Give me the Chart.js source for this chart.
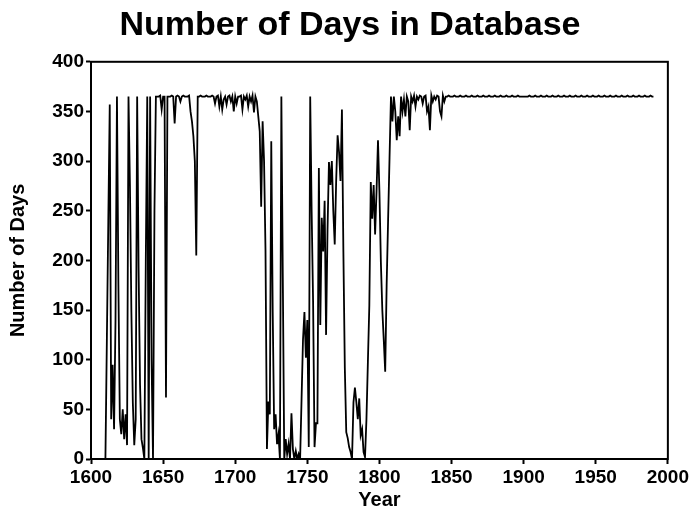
<!DOCTYPE html>
<html><head><meta charset="utf-8">
<script src="https://cdn.jsdelivr.net/npm/chart.js@4/dist/chart.umd.min.js"></script>
<style>html,body{margin:0;padding:0;background:#fff}</style>
</head><body>
<canvas id="c" width="691" height="515"></canvas>
<script>
const chartTitle = "Number of Days in Database";
const xAxisTitle = "Year";
const yAxisTitle = "Number of Days";
const xTickValues = [1600, 1650, 1700, 1750, 1800, 1850, 1900, 1950, 2000];
const yTickValues = [0, 50, 100, 150, 200, 250, 300, 350, 400];

const years = [
1610,1611,1612,1613,1614,1615,1616,1617,1618,1619,
1620,1621,1622,1623,1624,1625,1626,1627,1628,1629,
1630,1631,1632,1633,1634,1635,1636,1637,1638,1639,
1640,1641,1642,1643,1644,1645,1646,1647,1648,1649,
1650,1651,1652,1653,1654,1655,1656,1657,1658,1659,
1660,1661,1662,1663,1664,1665,1666,1667,1668,1669,
1670,1671,1672,1673,1674,1675,1676,1677,1678,1679,
1680,1681,1682,1683,1684,1685,1686,1687,1688,1689,
1690,1691,1692,1693,1694,1695,1696,1697,1698,1699,
1700,1701,1702,1703,1704,1705,1706,1707,1708,1709,
1710,1711,1712,1713,1714,1715,1716,1717,1718,1719,
1720,1721,1722,1723,1724,1725,1726,1727,1728,1729,
1730,1731,1732,1733,1734,1735,1736,1737,1738,1739,
1740,1741,1742,1743,1744,1745,1746,1747,1748,1749,
1750,1751,1752,1753,1754,1755,1756,1757,1758,1759,
1760,1761,1762,1763,1764,1765,1766,1767,1768,1769,
1770,1771,1772,1773,1774,1775,1776,1777,1778,1779,
1780,1781,1782,1783,1784,1785,1786,1787,1788,1789,
1790,1791,1792,1793,1794,1795,1796,1797,1798,1799,
1800,1801,1802,1803,1804,1805,1806,1807,1808,1809,
1810,1811,1812,1813,1814,1815,1816,1817,1818,1819,
1820,1821,1822,1823,1824,1825,1826,1827,1828,1829,
1830,1831,1832,1833,1834,1835,1836,1837,1838,1839,
1840,1841,1842,1843,1844,1845,1846,1847,1848,1849,
1850,1851,1852,1853,1854,1855,1856,1857,1858,1859,
1860,1861,1862,1863,1864,1865,1866,1867,1868,1869,
1870,1871,1872,1873,1874,1875,1876,1877,1878,1879,
1880,1881,1882,1883,1884,1885,1886,1887,1888,1889,
1890,1891,1892,1893,1894,1895,1896,1897,1898,1899,
1900,1901,1902,1903,1904,1905,1906,1907,1908,1909,
1910,1911,1912,1913,1914,1915,1916,1917,1918,1919,
1920,1921,1922,1923,1924,1925,1926,1927,1928,1929,
1930,1931,1932,1933,1934,1935,1936,1937,1938,1939,
1940,1941,1942,1943,1944,1945,1946,1947,1948,1949,
1950,1951,1952,1953,1954,1955,1956,1957,1958,1959,
1960,1961,1962,1963,1964,1965,1966,1967,1968,1969,
1970,1971,1972,1973,1974,1975,1976,1977,1978,1979,
1980,1981,1982,1983,1984,1985,1986,1987,1988,1989,
1990
];

const daysInDatabase = [
0,120,240,357,40,95,30,140,365,175,
40,25,50,20,45,14,365,276,148,57,
14,40,365,192,75,20,11,0,200,365,
0,365,100,0,250,365,365,365,366,352,
365,365,62,365,365,365,366,365,338,365,
366,365,360,365,366,365,365,365,366,350,
340,325,300,205,365,365,366,365,365,365,
366,365,365,365,366,365,358,365,366,355,
365,352,362,365,357,365,366,360,365,350,
365,358,365,365,366,352,365,362,366,355,
365,360,366,349,365,360,345,330,254,340,
300,210,10,58,45,320,148,30,45,15,
25,0,365,182,0,20,5,15,0,46,
10,0,8,0,5,0,60,120,148,102,
140,12,365,249,158,12,36,36,293,135,
243,209,260,125,230,299,276,300,250,216,
280,326,309,280,352,209,92,27,21,12,
7,0,57,72,57,40,61,24,30,7,
2,40,98,155,279,242,276,226,270,321,
269,198,150,120,88,175,240,303,365,340,
365,350,321,345,325,365,350,362,345,365,
360,331,365,360,366,355,365,362,366,365,
358,365,366,350,355,331,366,360,365,362,
366,365,350,345,366,360,365,365,366,365,
365,365,366,365,365,365,366,365,365,365,
366,365,365,365,366,365,365,365,366,365,
365,365,366,365,365,365,366,365,365,365,
366,365,365,365,366,365,365,365,366,365,
365,365,366,365,365,365,366,365,365,365,
365,365,365,365,366,365,365,365,366,365,
365,365,366,365,365,365,366,365,365,365,
366,365,365,365,366,365,365,365,366,365,
365,365,366,365,365,365,366,365,365,365,
366,365,365,365,366,365,365,365,366,365,
365,365,366,365,365,365,366,365,365,365,
366,365,365,365,366,365,365,365,366,365,
365,365,366,365,365,365,366,365,365,365,
366,365,365,365,366,365,365,365,366,365,
365
];

const FONT = '"Liberation Sans", Arial, Helvetica, sans-serif';

const framePlugin = {
  id: 'frame',
  afterDraw(chart) {
    const {ctx, chartArea: a} = chart;
    ctx.save();
    ctx.strokeStyle = '#000';
    ctx.lineWidth = 2;
    ctx.strokeRect(a.left, a.top, a.right - a.left, a.bottom - a.top);
    ctx.restore();
  }
};

const axisCommon = {
  grid: { display: true, drawOnChartArea: false, drawTicks: true, tickLength: 5, tickWidth: 2, tickColor: '#000', color: '#000' },
  border: { display: true, color: '#000', width: 2 },
};

new Chart(document.getElementById('c'), {
  type: 'line',
  data: {
    labels: years,
    datasets: [{
      data: daysInDatabase,
      borderColor: '#000',
      borderWidth: 1.8,
      pointRadius: 0,
      tension: 0,
      fill: false
    }]
  },
  options: {
    responsive: false,
    animation: false,
    devicePixelRatio: 1,
    layout: { padding: { top: 0, right: 21, bottom: 0, left: 30 } },
    plugins: {
      legend: { display: false },
      tooltip: { enabled: false },
      title: {
        display: true,
        text: chartTitle,
        color: '#000',
        font: { family: FONT, size: 34, weight: 'bold', lineHeight: 1.2 },
        padding: { top: 5, bottom: 16 }
      }
    },
    scales: {
      x: {
        type: 'linear',
        min: 1600, max: 2000,
        ...axisCommon,
        afterBuildTicks(s) { s.ticks = xTickValues.map(v => ({ value: v })); },
        afterFit(s) { s.height = 56; },
        ticks: { color: '#000', font: { family: FONT, size: 19, weight: 'bold' }, padding: 2, maxRotation: 0, autoSkip: false, callback: v => String(v) },
        title: { display: true, text: xAxisTitle, color: '#000', font: { family: FONT, size: 20, weight: 'bold', lineHeight: 1.2 }, padding: { top: 0, bottom: 3 } }
      },
      y: {
        type: 'linear',
        min: 0, max: 400,
        ...axisCommon,
        afterBuildTicks(s) { s.ticks = yTickValues.map(v => ({ value: v })); },
        afterFit(s) { s.width = 61; },
        ticks: { color: '#000', font: { family: FONT, size: 19, weight: 'bold' }, padding: 2, autoSkip: false, callback: v => String(v) },
        title: { display: true, text: yAxisTitle, color: '#000', font: { family: FONT, size: 20, weight: 'bold', lineHeight: 1.2 }, padding: { top: -24, bottom: 0 } }
      }
    }
  },
  plugins: [framePlugin]
});
</script>
</body></html>
